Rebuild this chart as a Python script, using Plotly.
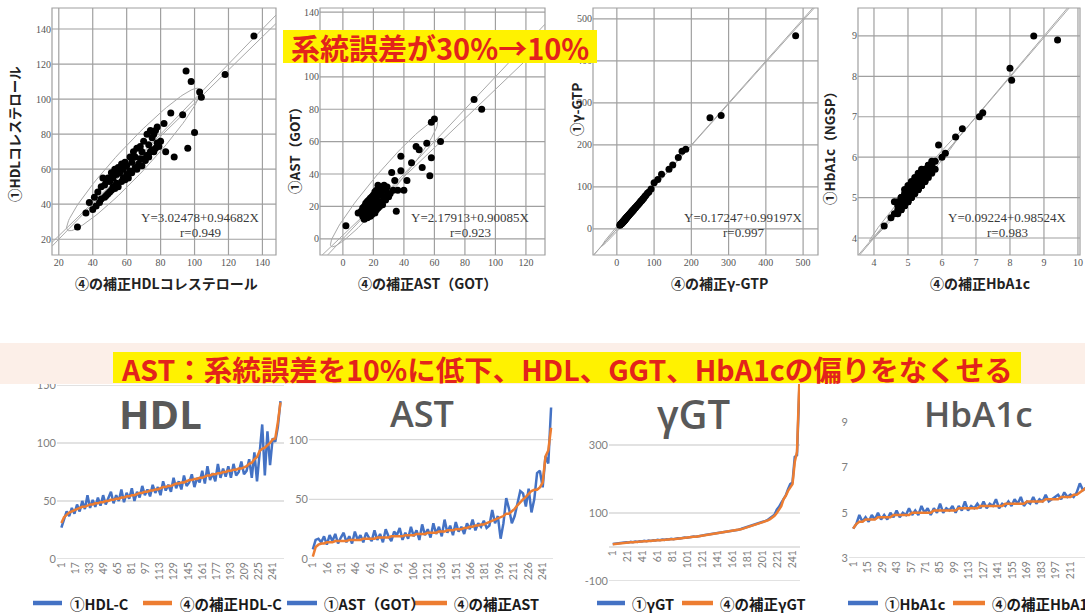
import numpy as np
import plotly.graph_objects as go

W, H = 1085, 614
N_SAMPLES = 250

# ---------------- data (④ corrected value, sorted ascending / ① measured value) ----------------
HDL_corr = [31,36,38,40,41,42,43,44,45,45, 46,47,47,48,48,49,49,50,50,51,
            51,52,52,53,53,54,54,55,55,56, 57,57,58,58,59,59,60,60,61,62,
            62,63,63,64,65,65,66,66,67,68, 68,69,69,70,70,71,72,72,73,73,
            74,74,75,75,76,76,77,77,78,78, 79,80,82,83,86,88,93,95,96,98,
            100,103,104,118,135]
HDL_meas = [27,35,41,37,44,39,47,41,50,43, 55,44,51,45,53,46,55,47,53,58,
            48,55,50,60,49,57,52,61,50,58, 53,63,55,60,54,64,57,62,55,67,
            59,64,58,70,61,67,60,72,63,66, 73,62,70,66,76,65,80,68,74,67,
            82,70,78,71,80,70,82,72,75,84, 73,76,86,70,92,67,91,116,72,110,
            81,104,101,114,136]

AST_corr = [2,10,12,13,13,14,14,14,15,15, 15,15,15,16,16,16,16,16,17,17,
            17,17,17,18,18,18,18,18,19,19, 19,19,19,20,20,20,20,21,21,21,
            21,22,22,22,22,23,23,23,24,24, 24,25,25,25,26,26,27,27,28,28,
            29,29,30,31,32,33,34,35,36,38, 38,40,42,45,48,50,52,55,57,58,
            58,60,64,86,91]
AST_meas = [8,16,17,14,19,12,20,15,21,13, 18,22,14,19,13,23,16,20,14,22,
            18,15,24,16,21,14,25,19,15,23, 20,26,16,22,17,27,19,24,16,29,
            20,25,18,30,21,27,19,33,22,28, 20,31,23,27,21,30,25,33,24,30,
            27,32,26,28,41,30,36,17,30,51, 42,30,36,47,57,55,44,59,39,50,
            72,74,60,86,80]
# last sample shown only in the sequence chart
AST_tail_corr = [110]
AST_tail_meas = [127]

GGT_corr = [8,9,10,11,12,12,13,13,14,14, 15,15,16,16,17,17,18,18,19,19,
            20,20,21,21,22,22,23,23,24,25, 25,26,27,27,28,29,30,30,31,32,
            33,34,35,36,37,38,39,40,41,42, 43,44,45,46,48,49,50,52,54,56,
            58,60,62,64,66,68,70,72,75,78, 82,86,92,100,110,120,140,150,165,175,
            185,250,280,480]
GGT_meas = [9,10,11,12,12,13,14,13,15,14, 16,15,17,16,18,17,19,18,20,19,
            21,20,22,21,23,22,24,23,25,26, 25,27,28,27,29,30,31,30,32,33,
            34,35,36,37,38,39,40,41,43,42, 44,45,46,47,49,50,51,53,55,57,
            59,61,63,66,67,69,72,73,77,80, 85,88,95,110,118,130,142,152,170,185,
            190,265,270,460]

HBA_corr = [4.3,4.5,4.6,4.6,4.7,4.7,4.7,4.7,4.8,4.8, 4.8,4.8,4.8,4.9,4.9,4.9,4.9,4.9,4.9,5.0,
            5.0,5.0,5.0,5.0,5.0,5.0,5.1,5.1,5.1,5.1, 5.1,5.1,5.1,5.1,5.2,5.2,5.2,5.2,5.2,5.2,
            5.2,5.3,5.3,5.3,5.3,5.3,5.3,5.3,5.3,5.4, 5.4,5.4,5.4,5.4,5.4,5.4,5.5,5.5,5.5,5.5,
            5.5,5.5,5.6,5.6,5.6,5.6,5.6,5.7,5.7,5.7, 5.7,5.8,5.8,5.9,6.0,6.1,6.4,6.6,7.1,7.2,
            8.0,8.05,8.7,9.4]
HBA_meas = [4.3,4.5,4.9,4.6,4.8,4.6,4.9,4.7,5.0,4.7, 4.9,4.7,5.0,4.8,5.1,4.8,5.0,4.9,5.2,4.9,
            5.1,4.9,5.3,5.0,5.2,4.9,5.2,5.0,5.4,5.0, 5.2,5.1,5.3,5.0,5.3,5.1,5.5,5.1,5.3,5.2,
            5.4,5.2,5.5,5.2,5.4,5.3,5.6,5.2,5.4,5.3, 5.5,5.3,5.6,5.4,5.7,5.3,5.5,5.4,5.7,5.4,
            5.6,5.5,5.8,5.5,5.6,5.7,5.8,5.6,5.9,5.7, 5.8,5.7,5.9,6.3,6.0,6.1,6.5,6.7,7.0,7.1,
            8.2,7.9,9.0,8.9]

# regression results printed on the scatter plots
REG = {
    'HDL': (3.02478, 0.94682, 0.949),
    'AST': (2.17913, 0.90085, 0.923),
    'GGT': (0.17247, 0.99197, 0.997),
    'HBA': (0.09224, 0.98524, 0.983),
}

BANNER_TOP = '系統誤差が30%→10%'
BANNER_MID = 'AST：系統誤差を10%に低下、HDL、GGT、HbA1cの偏りをなくせる'

# ---------------- helpers ----------------
def px(x):
    return x / W

def py(y):
    return 1 - y / H

SERIF = 'Liberation Serif'
JP = 'Noto Sans CJK JP'
SANS = 'Lato'
BLUE = '#4472c4'
ORANGE = '#ed7d31'

fig = go.Figure()
layout = dict(width=W, height=H, margin=dict(l=0, r=0, t=0, b=0, autoexpand=False),
              template='none', paper_bgcolor='white', plot_bgcolor='white', showlegend=False)
shapes = []
annots = []

def note(x, y, text, font, xanchor='center', yanchor='middle', **kw):
    d = dict(x=px(x), y=py(y), xref='paper', yref='paper', showarrow=False, text=text,
             font=font, xanchor=xanchor, yanchor=yanchor)
    d.update(kw)
    annots.append(d)

def ellipse(cx, cy, a, b, ang_deg):
    t = np.linspace(0, 2 * np.pi, 120)
    ang = np.radians(ang_deg)
    ex = cx + a * np.cos(t) * np.cos(ang) - b * np.sin(t) * np.sin(ang)
    ey = cy + a * np.cos(t) * np.sin(ang) + b * np.sin(t) * np.cos(ang)
    return ex, ey

def ticks_in(rng, t0, dt):
    lo, hi = rng
    k = np.ceil((lo - t0) / dt - 1e-9)
    out = []
    v = t0 + k * dt
    while v <= hi + 1e-9:
        out.append(round(float(v), 6))
        v += dt
    return out

def fmt(v):
    return str(int(v)) if float(v).is_integer() else str(v)

scatter_specs = [
    dict(n=1, key='HDL', x=HDL_corr, y=HDL_meas, xd=(52, 276), yd=(8, 255),
         xr=(16, 148), yr=(11, 152), dt=20, ell=(64, 65.5, 56, 8.5, 46), yhide=[],
         xt='④の補正HDLコレステロール', xtx=166, yt='①HDLコレステロール', ytx=14, yty=134, eqx=200),
    dict(n=2, key='AST', x=AST_corr, y=AST_meas, xd=(320, 545), yd=(8, 255),
         xr=(-15, 132.5), yr=(-10, 142.5), dt=20, ell=(27, 34, 52, 7, 48), yhide=[120],
         xt='④の補正AST（GOT）', xtx=427, yt='①AST（GOT）', ytx=294, yty=147, eqx=470),
    dict(n=3, key='GGT', x=GGT_corr, y=GGT_meas, xd=(593, 818), yd=(8, 255),
         xr=(-64, 540), yr=(-62, 526), dt=100, ell=(30, 30, 100, 5, 45), yhide=[],
         xt='④の補正γ-GTP', xtx=719, yt='①γ-GTP', ytx=576, yty=110, eqx=743),
    dict(n=4, key='HBA', x=HBA_corr, y=HBA_meas, xd=(858, 1080), yd=(8, 255),
         xr=(3.53, 10.06), yr=(3.58, 9.69), dt=1, ell=(5.25, 5.3, 1.95, 0.1, 45), yhide=[],
         xt='④の補正HbA1c', xtx=980, yt='①HbA1c（NGSP）', ytx=829, yty=145, eqx=1007),
]

GRID_SC = '#a0a0a0'

for s in scatter_specs:
    n = s['n']
    xa = 'x' if n == 1 else f'x{n}'
    ya = 'y' if n == 1 else f'y{n}'
    a, b, r = REG[s['key']]
    x0, x1 = s['xr']
    xt_vals = ticks_in(s['xr'], 0, s['dt'])
    yt_vals = ticks_in(s['yr'], 0, s['dt'])
    # grid lines and frame
    for v in xt_vals:
        shapes.append(dict(type='line', xref=xa, yref=f'{ya} domain', x0=v, x1=v, y0=0, y1=1,
                           layer='below', line=dict(color=GRID_SC, width=1.2)))
    for v in yt_vals:
        shapes.append(dict(type='line', yref=ya, xref=f'{xa} domain', y0=v, y1=v, x0=0, x1=1,
                           layer='below', line=dict(color=GRID_SC, width=1.2)))
    shapes.append(dict(type='rect', xref=f'{xa} domain', yref=f'{ya} domain', x0=0, x1=1, y0=0, y1=1,
                       layer='below', line=dict(color=GRID_SC, width=1.2)))
    # identity line and regression line
    fig.add_trace(go.Scatter(x=[x0, x1], y=[x0, x1], mode='lines',
                             line=dict(color='#a8a8a8', width=1), xaxis=xa, yaxis=ya, hoverinfo='skip'))
    fig.add_trace(go.Scatter(x=[x0, x1], y=[a + b * x0, a + b * x1], mode='lines',
                             line=dict(color='#a8a8a8', width=1), xaxis=xa, yaxis=ya, hoverinfo='skip'))
    ex, ey = ellipse(*s['ell'])
    fig.add_trace(go.Scatter(x=ex, y=ey, mode='lines', line=dict(color='#a8a8a8', width=1),
                             xaxis=xa, yaxis=ya, hoverinfo='skip'))
    fig.add_trace(go.Scatter(x=s['x'], y=s['y'], mode='markers',
                             marker=dict(color='black', size=7), xaxis=xa, yaxis=ya))
    axcommon = dict(showgrid=False, zeroline=False, showline=False, automargin=False, ticks='',
                    tickfont=dict(family=SERIF, size=10, color='#555555'))
    yshow = [v for v in yt_vals if v not in s['yhide']]
    layout['xaxis' if n == 1 else f'xaxis{n}'] = dict(
        axcommon, domain=[px(s['xd'][0]), px(s['xd'][1])], range=list(s['xr']), anchor=ya,
        tickmode='array', tickvals=xt_vals, ticktext=[fmt(v) for v in xt_vals])
    layout['yaxis' if n == 1 else f'yaxis{n}'] = dict(
        axcommon, domain=[py(s['yd'][1]), py(s['yd'][0])], range=list(s['yr']), anchor=xa,
        tickmode='array', tickvals=yshow, ticktext=[fmt(v) for v in yshow])
    note(s['xtx'], 283, f"<b>{s['xt']}</b>", dict(family=JP, size=14, color='#222222'))
    note(s['ytx'], s['yty'], f"<b>{s['yt']}</b>", dict(family=JP, size=13.5, color='#222222'),
         textangle=-90)
    note(s['eqx'], 218, f"Y={a:.5f}+{b:.5f}X", dict(family=SERIF, size=13, color='#3a3a3a'))
    note(s['eqx'], 233, f"r={r:.3f}", dict(family=SERIF, size=13, color='#3a3a3a'))

# ---------------- sequence (line) charts ----------------
line_specs = [
    dict(n=5, corr=HDL_corr, meas=HDL_meas, xd=(57, 284), yd=(385, 559), xr=(-4, 254),
         yr=(0, 150), dt=50, t0=0, step=16, tmax=241, grid=True, hide_top=False,
         title='HDL', tx=160, tsize=40, weight=700,
         leg=[(33, 62, 68, '①HDL-C'), (143, 172, 178, '④の補正HDL-C')]),
    dict(n=6, corr=AST_corr + AST_tail_corr, meas=AST_meas + AST_tail_meas, xd=(309, 553), yd=(380, 559),
         xr=(-3, 252), yr=(0, 150), dt=50, t0=0, step=15, tmax=241, grid=True, hide_top=True,
         title='AST', tx=422, tsize=36, weight=600,
         leg=[(287, 317, 322, '①AST（GOT）'), (415, 447, 452, '④の補正AST')]),
    dict(n=7, corr=GGT_corr, meas=GGT_meas, xd=(609, 800), yd=(377, 581), xr=(-4, 251),
         yr=(-100, 500), dt=200, t0=-100, step=20, tmax=241, grid=True, hide_top=True,
         title='γGT', tx=693, tsize=40, weight=600,
         leg=[(597, 625, 630, '①γGT'), (682, 713, 718, '④の補正γGT')]),
    dict(n=8, corr=HBA_corr, meas=HBA_meas, xd=(849, 1085), yd=(377, 558), xr=(-3, 225),
         yr=(3, 11), dt=2, t0=3, step=14, tmax=211, grid=False, hide_top=True,
         title='HbA1c', tx=978, tsize=35, weight=600,
         leg=[(848, 878, 883, '①HbA1c'), (953, 985, 990, '④の補正HbA1c')]),
]

GRID_LN = '#d9d9d9'

for s in line_specs:
    n = s['n']
    xa, ya = f'x{n}', f'y{n}'
    idx = np.linspace(1, N_SAMPLES, len(s['corr']))
    yt_vals = ticks_in(s['yr'], s['t0'], s['dt'])
    # horizontal grid / axis lines
    hl = list(yt_vals) if s['grid'] else [s['yr'][0]]
    if n == 7:
        hl = hl + [0]
    for v in hl:
        shapes.append(dict(type='line', yref=ya, xref=f'{xa} domain', y0=v, y1=v, x0=0, x1=1,
                           layer='below', line=dict(color=GRID_LN, width=1.3)))
    fig.add_trace(go.Scatter(x=idx, y=s['meas'], mode='lines', line=dict(color=BLUE, width=2.5),
                             xaxis=xa, yaxis=ya))
    fig.add_trace(go.Scatter(x=idx, y=s['corr'], mode='lines', line=dict(color=ORANGE, width=2.5),
                             xaxis=xa, yaxis=ya))
    xcfg = dict(domain=[px(s['xd'][0]), px(s['xd'][1])], range=list(s['xr']),
                tickmode='array', tickvals=list(range(1, s['tmax'] + 1, s['step'])),
                tickangle=-90, showgrid=False, zeroline=False, ticks='', automargin=False,
                tickfont=dict(family=SANS, size=10.5, color='#7f7f7f'), anchor=ya, showline=False)
    if n == 7:
        # category axis crosses the value axis at 0
        ydom0, ydom1 = py(s['yd'][1]), py(s['yd'][0])
        frac = (0 - s['yr'][0]) / (s['yr'][1] - s['yr'][0])
        xcfg['anchor'] = 'free'
        xcfg['position'] = ydom0 + frac * (ydom1 - ydom0)
    layout[f'xaxis{n}'] = xcfg
    yshow = yt_vals[:-1] if s['hide_top'] else yt_vals
    layout[f'yaxis{n}'] = dict(domain=[py(s['yd'][1]), py(s['yd'][0])], range=list(s['yr']),
                               tickmode='array', tickvals=yshow, ticktext=[fmt(v) for v in yshow],
                               showgrid=False, zeroline=False,
                               ticks='', anchor=xa, automargin=False, showline=False,
                               tickfont=dict(family=SANS, size=11, color='#7f7f7f'))
    note(s['tx'], 413, s['title'], dict(family='Open Sans', size=s['tsize'], color='#595959',
                                         weight=s['weight']))
    for (l0, l1, tx0, txt), col in zip(s['leg'], [BLUE, ORANGE]):
        shapes.append(dict(type='line', xref='paper', yref='paper', x0=px(l0), x1=px(l1),
                           y0=py(603), y1=py(603), line=dict(color=col, width=4.5)))
        note(tx0, 603, f'<b>{txt}</b>', dict(family=JP, size=14.5, color='#1a1a1a'), xanchor='left')

# ---------------- banners ----------------
shapes.append(dict(type='rect', xref='paper', yref='paper', layer='above',
                   x0=px(283), x1=px(597), y0=py(63), y1=py(30), fillcolor='#fff200', line=dict(width=0)))
note(440, 47, f'<b>{BANNER_TOP}</b>', dict(family=JP, size=29, color='#e3231b'))
shapes.append(dict(type='rect', xref='paper', yref='paper', layer='above',
                   x0=0, x1=1, y0=py(384), y1=py(343), fillcolor='#fcefe8', line=dict(width=0)))
shapes.append(dict(type='rect', xref='paper', yref='paper', layer='above',
                   x0=px(113), x1=px(1021), y0=py(383), y1=py(352), fillcolor='#fff200', line=dict(width=0)))
note(567, 368, f'<b>{BANNER_MID}</b>', dict(family=JP, size=28.5, color='#e3231b'))

layout['shapes'] = shapes
layout['annotations'] = annots
fig.update_layout(**layout)
fig.write_html('out.html', config={'displayModeBar': False, 'staticPlot': True},
               post_script="document.body.style.margin='0';document.body.style.overflow='hidden';")
